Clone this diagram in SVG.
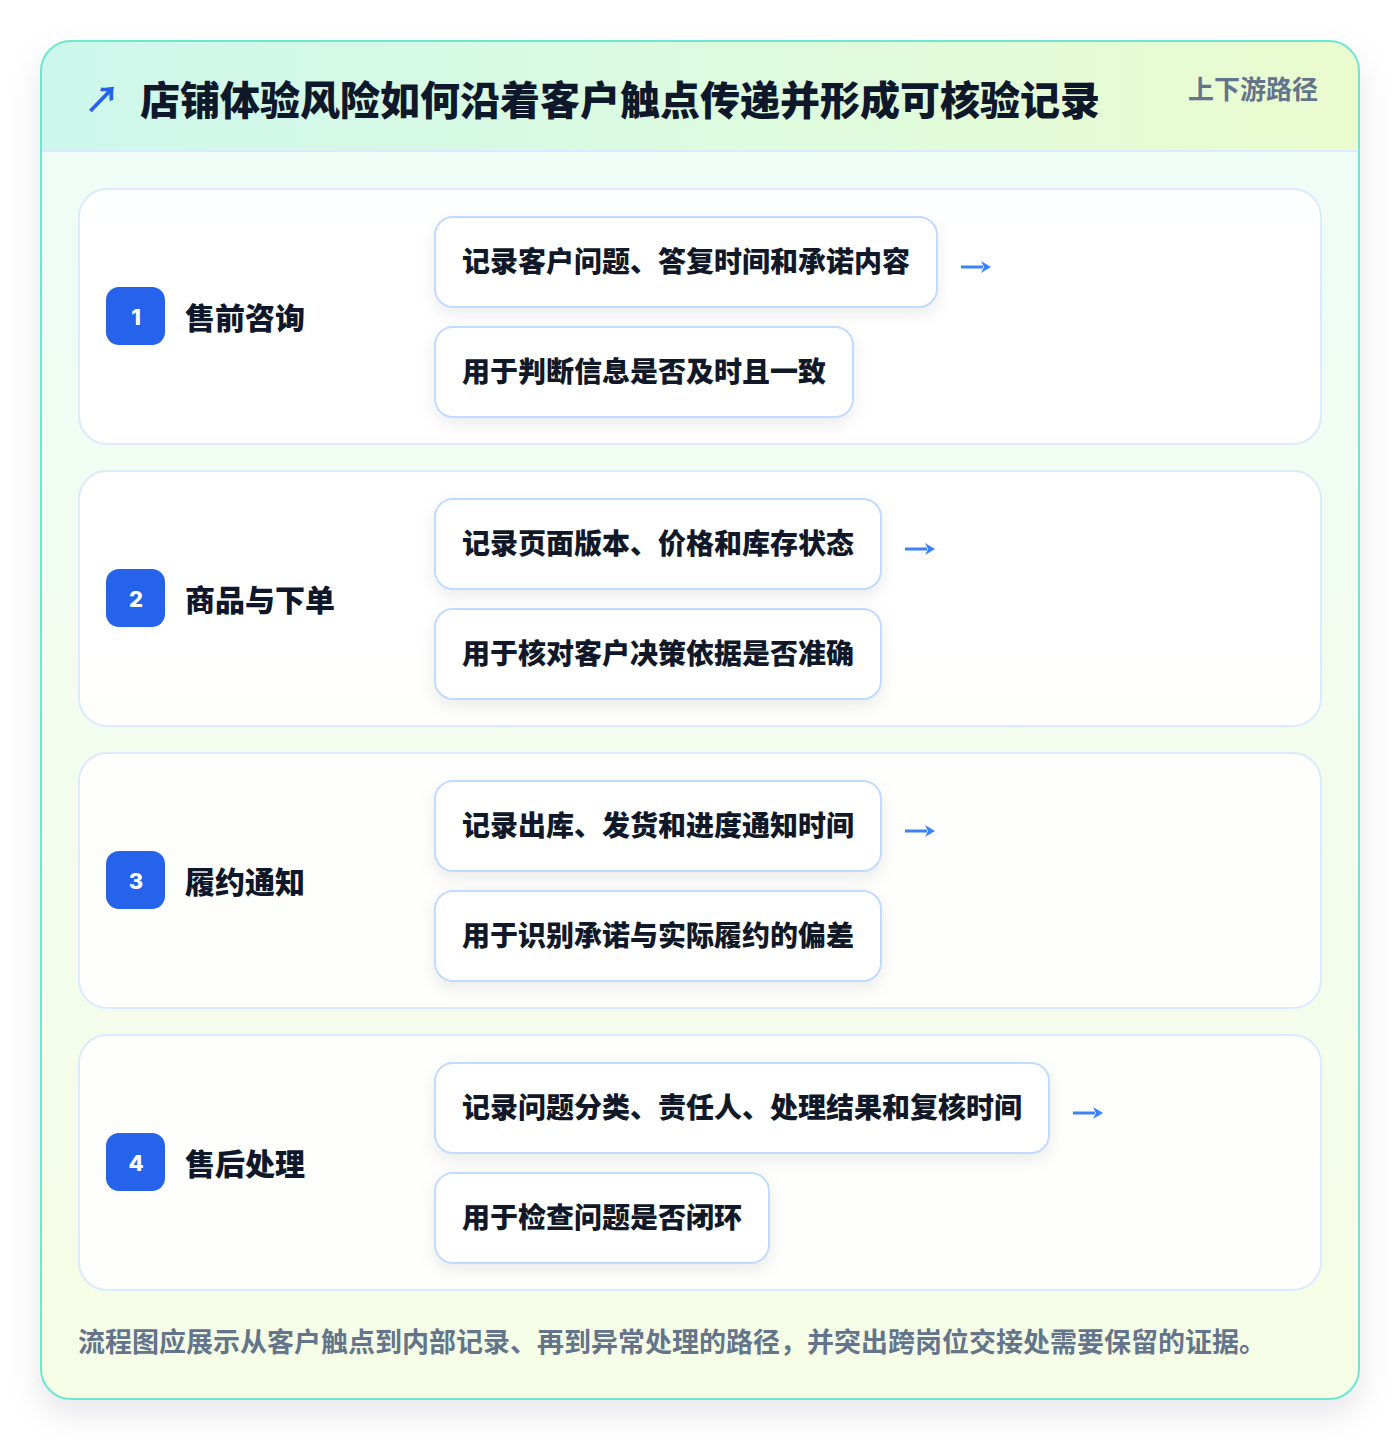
<svg xmlns="http://www.w3.org/2000/svg" width="1400" height="1440" viewBox="0 0 1400 1440">
<defs>
<linearGradient id="hdr" x1="0" y1="0" x2="1" y2="0">
<stop offset="0" stop-color="#cdf7ec"/>
<stop offset="0.5" stop-color="#dcfbe0"/>
<stop offset="1" stop-color="#ebfbcf"/>
</linearGradient>
<linearGradient id="body" x1="0" y1="0" x2="0" y2="1">
<stop offset="0" stop-color="#effdf8"/>
<stop offset="1" stop-color="#f6fde6"/>
</linearGradient>
<filter id="cardShadow" x="-10%" y="-10%" width="120%" height="125%">
<feDropShadow dx="0" dy="14" stdDeviation="16" flood-color="#0f172a" flood-opacity="0.10"/>
</filter>
<filter id="boxShadow" x="-10%" y="-20%" width="120%" height="160%">
<feDropShadow dx="0" dy="6" stdDeviation="8" flood-color="#0f172a" flood-opacity="0.08"/>
</filter>
<clipPath id="cardClip"><rect x="41" y="41" width="1318" height="1358" rx="30"/></clipPath>
<marker id="head" viewBox="0 0 10 12" refX="2" refY="6" markerWidth="10" markerHeight="12" markerUnits="userSpaceOnUse" orient="auto">
<path d="M0,0 L10,6 L0,12 L3,6 Z" fill="#3b82f6"/>
</marker>
</defs>
<style>
.cjk{font-family:"Noto Sans CJK SC","Noto Sans",sans-serif;}
.title{font-size:40px;font-weight:900;fill:#0f172a;}
.tag{font-size:26px;font-weight:700;fill:#64748b;}
.row{fill:#ffffff;fill-opacity:0.88;stroke:#dbeafe;stroke-width:2;}
.badge{fill:#2563eb;}
.num{font-family:Inter,"Noto Sans",sans-serif;font-size:22px;font-weight:800;fill:#ffffff;text-anchor:middle;}
.label{font-size:30px;font-weight:900;fill:#0f172a;}
.box{fill:#ffffff;stroke:#bfdbfe;stroke-width:2;}
.boxtxt{font-size:28px;font-weight:900;fill:#111827;}
.conn{fill:none;stroke:#3b82f6;stroke-width:3;marker-end:url(#head);}
.foot{font-size:27px;font-weight:700;fill:#64748b;}
</style>
<rect width="1400" height="1440" fill="#ffffff"/>
<g id="card">
<rect x="41" y="41" width="1318" height="1358" rx="30" fill="url(#body)" filter="url(#cardShadow)"/>
<g clip-path="url(#cardClip)">
<rect x="41" y="41" width="1318" height="110" fill="url(#hdr)"/>
<line x1="41" y1="151" x2="1359" y2="151" stroke="#dbeafe" stroke-width="2"/>
</g>
<rect x="41" y="41" width="1318" height="1358" rx="30" fill="none" stroke="#6ee7d2" stroke-width="2"/>
</g>
<g id="header">
<text x="84" y="113" class="cjk" style="font-size:36px;font-weight:700;fill:#2563eb">↗</text>
<text x="140" y="115" class="cjk title">店铺体验风险如何沿着客户触点传递并形成可核验记录</text>
<text x="1318" y="99" class="cjk tag" text-anchor="end">上下游路径</text>
</g>
<g id="step1">
<rect x="79" y="189" width="1242" height="255" rx="28" class="row"/>
<rect x="106" y="287" width="59" height="58" rx="13" class="badge"/>
<text x="136" y="325" class="num">1</text>
<text x="185" y="329" class="cjk label">售前咨询</text>
<g id="step1-record"><rect x="435" y="217" width="502" height="90" rx="18" class="box" filter="url(#boxShadow)"/>
<text x="462" y="272" class="cjk boxtxt">记录客户问题、答复时间和承诺内容</text></g>
<g id="step1-use"><rect x="435" y="327" width="418" height="90" rx="18" class="box" filter="url(#boxShadow)"/>
<text x="462" y="382" class="cjk boxtxt">用于判断信息是否及时且一致</text></g>
</g>
<g id="step2">
<rect x="79" y="471" width="1242" height="255" rx="28" class="row"/>
<rect x="106" y="569" width="59" height="58" rx="13" class="badge"/>
<text x="136" y="607" class="num">2</text>
<text x="185" y="611" class="cjk label">商品与下单</text>
<g id="step2-record"><rect x="435" y="499" width="446" height="90" rx="18" class="box" filter="url(#boxShadow)"/>
<text x="462" y="554" class="cjk boxtxt">记录页面版本、价格和库存状态</text></g>
<g id="step2-use"><rect x="435" y="609" width="446" height="90" rx="18" class="box" filter="url(#boxShadow)"/>
<text x="462" y="664" class="cjk boxtxt">用于核对客户决策依据是否准确</text></g>
</g>
<g id="step3">
<rect x="79" y="753" width="1242" height="255" rx="28" class="row"/>
<rect x="106" y="851" width="59" height="58" rx="13" class="badge"/>
<text x="136" y="889" class="num">3</text>
<text x="185" y="893" class="cjk label">履约通知</text>
<g id="step3-record"><rect x="435" y="781" width="446" height="90" rx="18" class="box" filter="url(#boxShadow)"/>
<text x="462" y="836" class="cjk boxtxt">记录出库、发货和进度通知时间</text></g>
<g id="step3-use"><rect x="435" y="891" width="446" height="90" rx="18" class="box" filter="url(#boxShadow)"/>
<text x="462" y="946" class="cjk boxtxt">用于识别承诺与实际履约的偏差</text></g>
</g>
<g id="step4">
<rect x="79" y="1035" width="1242" height="255" rx="28" class="row"/>
<rect x="106" y="1133" width="59" height="58" rx="13" class="badge"/>
<text x="136" y="1171" class="num">4</text>
<text x="185" y="1175" class="cjk label">售后处理</text>
<g id="step4-record"><rect x="435" y="1063" width="614" height="90" rx="18" class="box" filter="url(#boxShadow)"/>
<text x="462" y="1118" class="cjk boxtxt">记录问题分类、责任人、处理结果和复核时间</text></g>
<g id="step4-use"><rect x="435" y="1173" width="334" height="90" rx="18" class="box" filter="url(#boxShadow)"/>
<text x="462" y="1228" class="cjk boxtxt">用于检查问题是否闭环</text></g>
</g>
<g id="connectors">
<path d="M961,267 H983" class="conn"/>
<path d="M905,549 H927" class="conn"/>
<path d="M905,831 H927" class="conn"/>
<path d="M1073,1113 H1095" class="conn"/>
</g>
<g id="footer">
<text x="78" y="1352" class="cjk foot">流程图应展示从客户触点到内部记录、再到异常处理的路径，并突出跨岗位交接处需要保留的证据。</text>
</g>
</svg>
